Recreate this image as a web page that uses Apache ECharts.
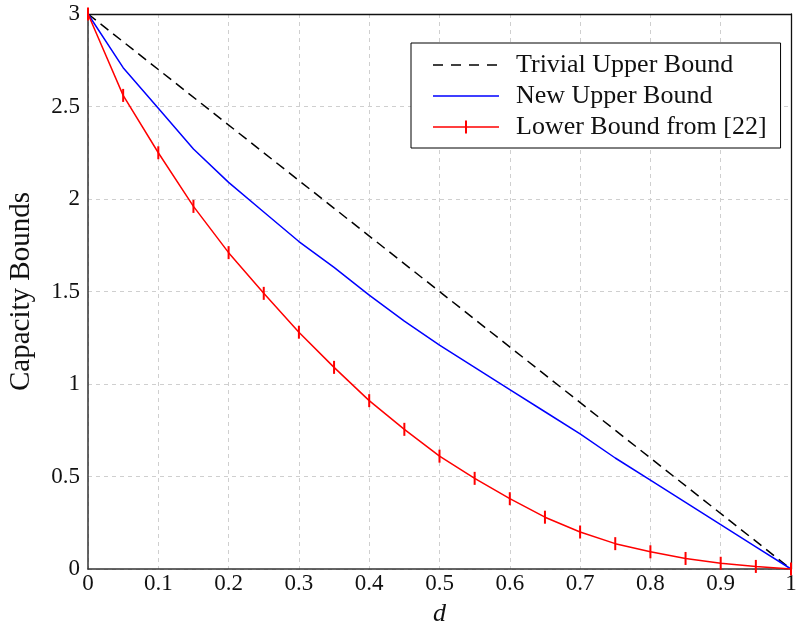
<!DOCTYPE html>
<html>
<head>
<meta charset="utf-8">
<script src="https://cdn.jsdelivr.net/npm/echarts@6/dist/echarts.min.js"></script>
<style>html,body{margin:0;padding:0;background:#fff;overflow:hidden}#c{width:797px;height:625px}</style>
</head>
<body>
<div id="c"></div>
<script>
const seriesNames = ['Trivial Upper Bound', 'New Upper Bound', 'Lower Bound from [22]'];
const trivialX = [0, 1];
const trivialY = [3, 0];
const dGrid = [0, 0.05, 0.1, 0.15, 0.2, 0.25, 0.3, 0.35, 0.4, 0.45, 0.5, 0.55, 0.6, 0.65, 0.7, 0.75, 0.8, 0.85, 0.9, 0.95, 1];
const newUpper = [3, 2.71, 2.49, 2.27, 2.09, 1.93, 1.77, 1.63, 1.48, 1.34, 1.21, 1.09, 0.97, 0.85, 0.73, 0.60, 0.48, 0.36, 0.24, 0.12, 0];
const lowerBound = [3, 2.56, 2.25, 1.96, 1.71, 1.49, 1.28, 1.09, 0.91, 0.755, 0.61, 0.49, 0.38, 0.28, 0.20, 0.137, 0.093, 0.057, 0.031, 0.014, 0];
const xTicks = { min: 0, max: 1, interval: 0.1 };
const yTicks = { min: 0, max: 3, interval: 0.5 };

const zip = (xs, ys) => xs.map((x, i) => [x, ys[i]]);
const font = 'Liberation Serif';
// legend icons (66 x 14 box)
const dashIcon = 'path://M0,6.3H10V7.7H0Z M18,6.3H28V7.7H18Z M36,6.3H46V7.7H36Z M54,6.3H64V7.7H54Z M0,0H0.01V0.01H0Z M65.99,13.99H66V14H65.99Z';
const solidIcon = 'path://M0,6.3H66V7.7H0Z M0,0H0.01V0.01H0Z M65.99,13.99H66V14H65.99Z';
const markIcon = 'path://M0,6.3H66V7.7H0Z M32,0.5H34V13.5H32Z M0,0H0.01V0.01H0Z M65.99,13.99H66V14H65.99Z';
const chart = echarts.init(document.getElementById('c'), null, { renderer: 'canvas' });
const plainAxis = { show: true, axisLine: { show: true, onZero: false, lineStyle: { color: '#111', width: 1.3 } },
  axisTick: { show: false }, axisLabel: { show: false }, splitLine: { show: false } };
chart.setOption({
  animation: false,
  backgroundColor: '#fff',
  textStyle: { fontFamily: font },
  grid: { left: 88, right: 6, top: 14, bottom: 56, containLabel: false, outerBoundsMode: 'none' },
  legend: {
    data: [
      { name: seriesNames[0], icon: dashIcon },
      { name: seriesNames[1], icon: solidIcon },
      { name: seriesNames[2], icon: markIcon }
    ],
    left: 411, top: 43,
    orient: 'vertical',
    backgroundColor: '#fff',
    borderColor: '#000', borderWidth: 1, borderRadius: 0,
    padding: [7, 14, 6, 22],
    itemWidth: 66, itemHeight: 14, itemGap: 1,
    textStyle: { fontFamily: font, fontSize: 26, color: '#111', padding: [0, 0, 0, 12], lineHeight: 30 }
  },
  xAxis: [{
    type: 'value', min: xTicks.min, max: xTicks.max, interval: xTicks.interval,
    name: 'd', nameLocation: 'middle', nameGap: 32,
    nameTextStyle: { fontFamily: font, fontSize: 26, fontStyle: 'italic', color: '#111' },
    axisLine: { show: true, onZero: false, lineStyle: { color: '#333', width: 1.5 } },
    axisTick: { show: false },
    axisLabel: { fontFamily: font, fontSize: 23, color: '#111', margin: 3,
      formatter: v => String(Math.round(v * 10) / 10) },
    splitLine: { show: true, lineStyle: { color: '#cfcfcf', type: [4, 4], width: 1 } }
  }, Object.assign({ type: 'value', position: 'top', min: 0, max: 1 }, plainAxis)],
  yAxis: [{
    type: 'value', min: yTicks.min, max: yTicks.max, interval: yTicks.interval,
    name: 'Capacity Bounds', nameLocation: 'middle', nameGap: 52, nameRotate: 90,
    nameTextStyle: { fontFamily: font, fontSize: 29, color: '#111' },
    axisLine: { show: true, onZero: false, lineStyle: { color: '#333', width: 1.5 } },
    axisTick: { show: false },
    axisLabel: { fontFamily: font, fontSize: 23, color: '#111', margin: 8,
      formatter: v => String(Math.round(v * 10) / 10) },
    splitLine: { show: true, lineStyle: { color: '#cfcfcf', type: [4, 4], width: 1 } }
  }, Object.assign({ type: 'value', position: 'right', min: 0, max: 3 }, plainAxis)],
  series: [
    { name: seriesNames[0], type: 'line', data: zip(trivialX, trivialY), showSymbol: false, symbol: 'none',
      lineStyle: { color: '#000', width: 1.5, type: [10, 6] }, itemStyle: { color: '#000' } },
    { name: seriesNames[1], type: 'line', data: zip(dGrid, newUpper), showSymbol: false, symbol: 'none',
      lineStyle: { color: '#0000ff', width: 1.5 }, itemStyle: { color: '#0000ff' } },
    { name: seriesNames[2], type: 'line', data: zip(dGrid, lowerBound), symbol: 'rect', symbolSize: [2, 13], showSymbol: true,
      lineStyle: { color: '#ff0000', width: 1.5 }, itemStyle: { color: '#ff0000' }, z: 3 }
  ]
});
</script>
</body>
</html>
